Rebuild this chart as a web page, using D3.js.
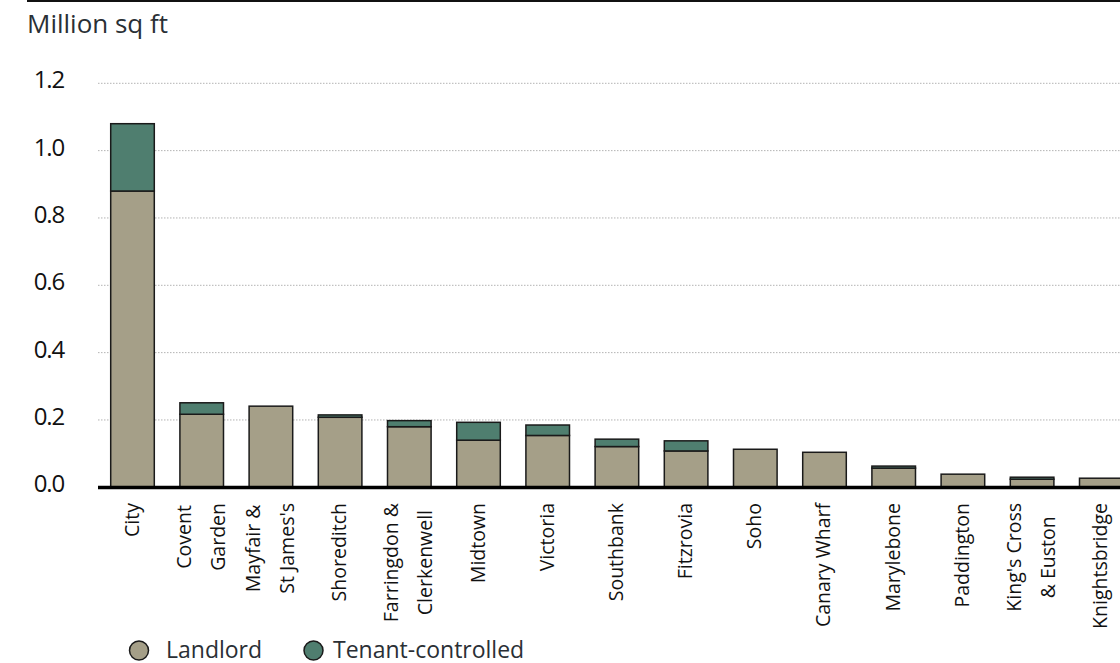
<!DOCTYPE html>
<html>
<head>
<meta charset="utf-8">
<script src="https://cdn.jsdelivr.net/npm/d3@7"></script>
<style>
  html, body { margin: 0; padding: 0; background: #fff; }
  svg { display: block; font-family: "Open Sans", "Noto Sans", sans-serif; }
</style>
</head>
<body>
<svg id="chart" width="1120" height="663"></svg>
<script>
// London office space by submarket, million sq ft
const categories = [
  ["City"],
  ["Covent", "Garden"],
  ["Mayfair &", "St James's"],
  ["Shoreditch"],
  ["Farringdon &", "Clerkenwell"],
  ["Midtown"],
  ["Victoria"],
  ["Southbank"],
  ["Fitzrovia"],
  ["Soho"],
  ["Canary Wharf"],
  ["Marylebone"],
  ["Paddington"],
  ["King's Cross", "& Euston"],
  ["Knightsbridge"]
];
const landlord = [0.880, 0.217, 0.241, 0.208, 0.180, 0.140, 0.154, 0.121, 0.108, 0.113, 0.104, 0.057, 0.039, 0.024, 0.027];
const tenant   = [0.200, 0.034, 0.000, 0.007, 0.018, 0.053, 0.031, 0.022, 0.030, 0.000, 0.000, 0.006, 0.000, 0.006, 0.000];
const yTicks = [0, 0.2, 0.4, 0.6, 0.8, 1.0, 1.2];
const seriesNames = ["Landlord", "Tenant-controlled"];
const seriesColors = ["#a59f88", "#4f7e6f"];

const svg = d3.select("#chart");
const W = 1120;

const keys = categories.map(c => c.join(" "));
const x = d3.scaleBand().domain(keys).range([85.1, 1148.7]).paddingInner(0.37).paddingOuter(0.37);
const y = d3.scaleLinear().domain([0, 1.2]).range([487.3, 83.3]);

// top rule
svg.append("line").attr("x1", 27).attr("x2", W).attr("y1", 1).attr("y2", 1)
  .attr("stroke", "#111").attr("stroke-width", 2);

// unit title
svg.append("text").attr("x", 27).attr("y", 33)
  .attr("font-size", 26).attr("fill", "#2a2f35").text("Million sq ft");

// dotted gridlines
svg.append("g").selectAll("line").data(yTicks.filter(d => d > 0)).join("line")
  .attr("x1", 98).attr("x2", W)
  .attr("y1", d => y(d)).attr("y2", d => y(d))
  .attr("stroke", "#b3b3b3").attr("stroke-width", 1).attr("stroke-dasharray", "1.5,1.5");

// y tick labels
svg.append("g").selectAll("text").data(yTicks).join("text")
  .attr("x", 64).attr("y", d => y(d) + 5)
  .attr("text-anchor", "end").attr("font-size", 24).attr("letter-spacing", -1.2)
  .attr("fill", "#111").text(d => d3.format(".1f")(d));

// stacked bars
const rows = keys.map((k, i) => ({ key: k, landlord: landlord[i], tenant: tenant[i] }));
const stack = d3.stack().keys(["landlord", "tenant"])(rows);
const gBars = svg.append("g");
stack.forEach((layer, li) => {
  gBars.append("g").selectAll("rect").data(layer.filter(d => d[1] - d[0] > 0)).join("rect")
    .attr("x", d => x(d.data.key))
    .attr("width", x.bandwidth())
    .attr("y", d => y(d[1]))
    .attr("height", d => y(d[0]) - y(d[1]))
    .attr("fill", seriesColors[li])
    .attr("stroke", "#1a1a1a").attr("stroke-width", 1.5);
});

// baseline axis
svg.append("line").attr("x1", 98).attr("x2", W).attr("y1", y(0) + 0.3).attr("y2", y(0) + 0.3)
  .attr("stroke", "#000").attr("stroke-width", 3.5);

// category labels, rotated, multi-line blocks centred on each bar
const lineGap = 34;
const gLab = svg.append("g");
categories.forEach((lines, i) => {
  const cx = x(keys[i]) + x.bandwidth() / 2;
  const g = gLab.append("g").attr("transform", `translate(${cx},503) rotate(-90)`);
  const n = lines.length;
  const texts = lines.map((t, j) => g.append("text")
    .attr("font-size", 19.5).attr("fill", "#111")
    .attr("text-anchor", "middle")
    .attr("y", (j - (n - 1) / 2) * lineGap + 6)
    .text(t));
  const maxLen = d3.max(texts, t => t.node().getComputedTextLength());
  texts.forEach(t => t.attr("x", -maxLen / 2));
});

// legend
const legendItems = [
  { cx: 139, tx: 166, i: 0 },
  { cx: 313.5, tx: 333, i: 1 }
];
const gLeg = svg.append("g");
legendItems.forEach(d => {
  gLeg.append("circle").attr("cx", d.cx).attr("cy", 650.5).attr("r", 9.5)
    .attr("fill", seriesColors[d.i]).attr("stroke", "#1a1a1a").attr("stroke-width", 1.5);
  gLeg.append("text").attr("x", d.tx).attr("y", 657.5)
    .attr("font-size", 23).attr("fill", "#2a2f35").text(seriesNames[d.i]);
});
</script>
</body>
</html>
